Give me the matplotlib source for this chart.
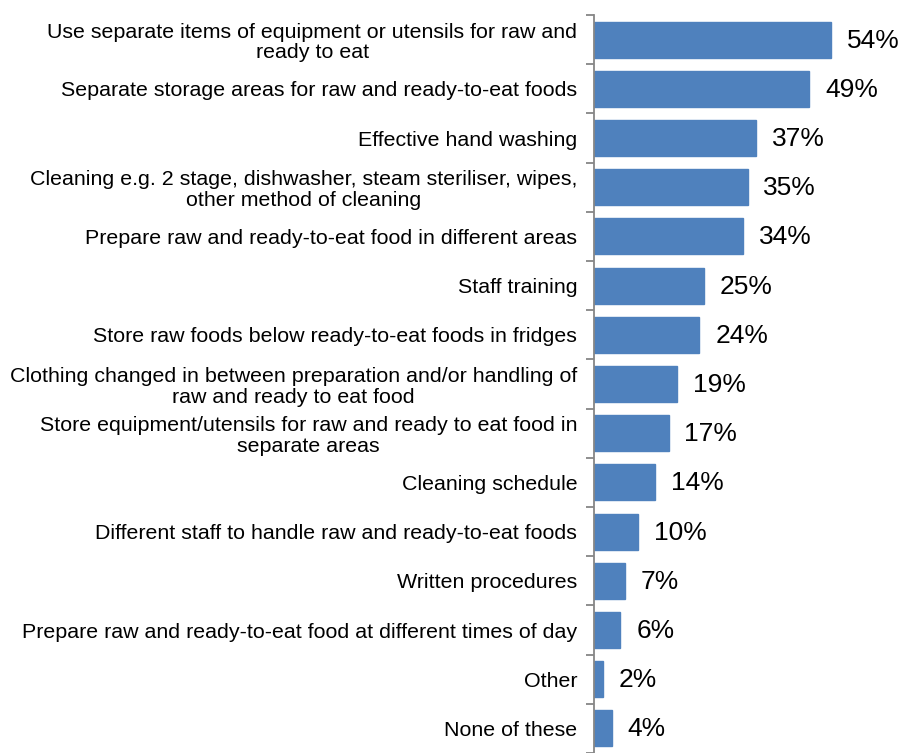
import matplotlib.pyplot as plt
import numpy as np

plt.rcParams['font.family'] = ['Liberation Sans', 'DejaVu Sans']

# Measures taken to avoid cross-contamination (% of respondents)
measures = [
    "Use separate items of equipment or utensils for raw and\nready to eat",
    "Separate storage areas for raw and ready-to-eat foods",
    "Effective hand washing",
    "Cleaning e.g. 2 stage, dishwasher, steam steriliser, wipes,\nother method of cleaning",
    "Prepare raw and ready-to-eat food in different areas",
    "Staff training",
    "Store raw foods below ready-to-eat foods in fridges",
    "Clothing changed in between preparation and/or handling of\nraw and ready to eat food",
    "Store equipment/utensils for raw and ready to eat food in\nseparate areas",
    "Cleaning schedule",
    "Different staff to handle raw and ready-to-eat foods",
    "Written procedures",
    "Prepare raw and ready-to-eat food at different times of day",
    "Other",
    "None of these",
]
percent = [54, 49, 37, 35, 34, 25, 24, 19, 17, 14, 10, 7, 6, 2, 4]

fig = plt.figure(figsize=(9.04, 7.53), dpi=100)
ax = fig.add_axes([594 / 904, 0.0, 1 - 594 / 904 - 0.002, 1 - 15 / 753])

y = np.arange(len(measures))
ax.barh(y, percent, height=0.73, color='#4F81BD', edgecolor='#4F81BD', zorder=2)

for yi, v in zip(y, percent):
    ax.text(v + 3.6, yi + 0.02, f"{v}%", va='center', ha='left', fontsize=19)

ax.set_ylim(len(measures) - 0.5, -0.5)
ax.set_xlim(0, 70.2)

ax.set_yticks(y)
ax.set_yticklabels(measures, fontsize=15.4, linespacing=1.12,
                   multialignment='center')
ax.tick_params(axis='y', which='major', length=0, pad=12)
ax.set_yticks(np.arange(len(measures) + 1) - 0.5, minor=True)
ax.tick_params(axis='y', which='minor', length=6, width=1.3, color='#868686')
ax.set_xticks([])

for side in ['top', 'right', 'bottom']:
    ax.spines[side].set_visible(False)
ax.spines['left'].set_color('#868686')
ax.spines['left'].set_linewidth(1.3)

fig.savefig('out.png', dpi=100)
